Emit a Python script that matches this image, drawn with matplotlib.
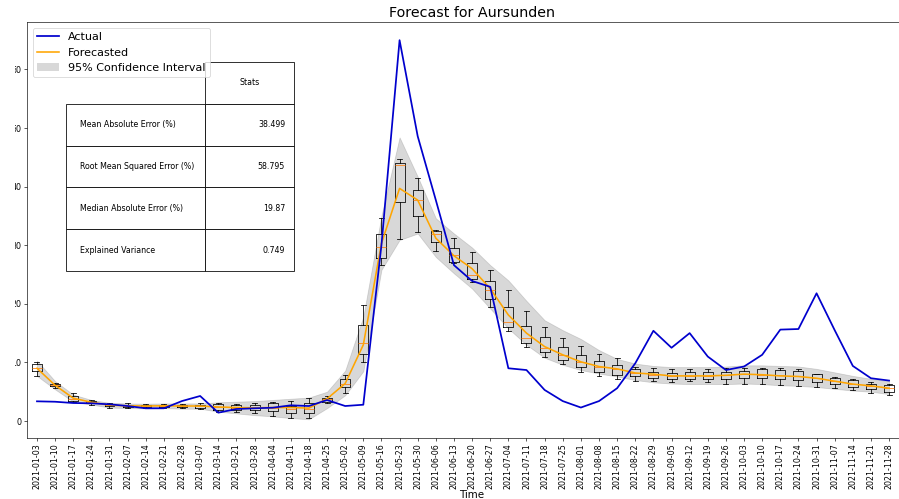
import numpy as np
import matplotlib
matplotlib.use("Agg")
import matplotlib.pyplot as plt
from matplotlib.table import Table
from matplotlib.patches import Rectangle
from matplotlib.lines import Line2D
from matplotlib.patches import Patch

weeks = [
    "2021-01-03", "2021-01-10", "2021-01-17", "2021-01-24", "2021-01-31",
    "2021-02-07", "2021-02-14", "2021-02-21", "2021-02-28", "2021-03-07",
    "2021-03-14", "2021-03-21", "2021-03-28", "2021-04-04", "2021-04-11",
    "2021-04-18", "2021-04-25", "2021-05-02", "2021-05-09", "2021-05-16",
    "2021-05-23", "2021-05-30", "2021-06-06", "2021-06-13", "2021-06-20",
    "2021-06-27", "2021-07-04", "2021-07-11", "2021-07-18", "2021-07-25",
    "2021-08-01", "2021-08-08", "2021-08-15", "2021-08-22", "2021-08-29",
    "2021-09-05", "2021-09-12", "2021-09-19", "2021-09-26", "2021-10-03",
    "2021-10-10", "2021-10-17", "2021-10-24", "2021-10-31", "2021-11-07",
    "2021-11-14", "2021-11-21", "2021-11-28",
]

actual = [3.36, 3.29, 3.07, 3.02, 2.85, 2.56, 2.17, 2.17, 3.41, 4.27,
          1.42, 2.05, 2.17, 2.27, 2.68, 2.56, 3.58, 2.56, 2.78, 30.0,
          65.0, 48.6, 37.7, 26.6, 23.9, 22.9, 9.0, 8.7, 5.3, 3.4,
          2.3, 3.4, 5.6, 9.85, 15.4, 12.5, 15.0, 11.0, 8.7, 9.3,
          11.3, 15.6, 15.7, 21.8, 15.5, 9.4, 7.3, 6.9]

forecast = [9.0, 6.1, 3.9, 3.2, 2.7, 2.6, 2.56, 2.6, 2.56, 2.56,
            2.4, 2.3, 2.25, 2.3, 2.3, 2.2, 3.8, 6.4, 13.0, 30.3,
            39.7, 37.7, 31.2, 28.2, 26.0, 22.6, 18.1, 15.0, 12.7, 11.3,
            10.1, 9.3, 8.9, 8.2, 8.0, 7.7, 7.7, 7.7, 7.8, 8.0,
            7.9, 7.7, 7.6, 7.3, 6.8, 6.3, 6.0, 5.6]

ci_upper = [10.3, 6.8, 4.5, 3.6, 3.1, 3.0, 2.95, 3.0, 3.0, 3.0,
            3.2, 3.3, 3.4, 3.6, 3.8, 4.0, 5.0, 8.6, 17.8, 35.0,
            48.4, 41.7, 34.6, 32.0, 29.6, 26.6, 24.0, 20.5, 17.2, 15.5,
            14.0, 12.1, 10.6, 9.8, 9.4, 9.2, 9.2, 9.2, 9.3, 9.5,
            9.5, 9.4, 9.3, 8.9, 8.3, 7.7, 7.2, 6.8]

ci_lower = [7.7, 5.4, 3.3, 2.8, 2.3, 2.2, 2.15, 2.2, 2.1, 2.1,
            1.6, 1.3, 1.0, 0.8, 0.5, 0.3, 2.2, 4.4, 8.5, 25.8,
            30.9, 32.0, 28.0, 25.2, 22.6, 19.2, 15.8, 13.0, 10.8, 9.6,
            8.7, 8.1, 7.6, 7.0, 6.6, 6.4, 6.3, 6.3, 6.3, 6.4,
            6.3, 6.1, 6.0, 5.8, 5.5, 5.2, 5.0, 4.6]

box_q1 = [8.6, 5.9, 3.5, 3.0, 2.5, 2.4, 2.35, 2.4, 2.35, 2.25,
          1.9, 1.9, 1.8, 1.7, 1.3, 1.3, 3.3, 5.75, 11.5, 27.8,
          37.4, 35.0, 30.6, 27.2, 24.2, 20.8, 16.1, 13.3, 11.7, 10.4,
          9.3, 8.3, 7.85, 7.6, 7.3, 7.1, 7.2, 7.1, 7.2, 7.3,
          7.3, 7.1, 7.0, 6.7, 6.4, 5.85, 5.4, 5.0]
box_med = [9.1, 6.1, 3.8, 3.2, 2.7, 2.6, 2.55, 2.6, 2.55, 2.5,
           2.4, 2.3, 2.2, 2.3, 2.0, 2.1, 3.7, 6.4, 13.3, 29.7,
           43.7, 37.7, 32.0, 28.3, 24.9, 22.4, 16.9, 14.1, 12.4, 11.2,
           10.0, 9.2, 8.8, 8.2, 7.9, 7.7, 7.7, 7.7, 7.8, 8.0,
           7.9, 7.8, 7.6, 7.3, 6.9, 6.3, 6.0, 5.6]
box_q3 = [9.8, 6.3, 4.3, 3.4, 2.9, 2.8, 2.75, 2.8, 2.75, 2.8,
          2.9, 2.7, 2.7, 3.1, 2.6, 3.0, 4.0, 7.1, 16.4, 31.9,
          44.1, 39.4, 32.4, 29.5, 26.9, 23.9, 19.5, 16.2, 14.3, 12.6,
          11.3, 10.3, 9.6, 8.9, 8.4, 8.2, 8.3, 8.3, 8.4, 8.6,
          8.8, 8.7, 8.5, 8.0, 7.4, 7.0, 6.4, 6.1]
box_low = [7.6, 5.7, 3.3, 2.8, 2.3, 2.3, 2.2, 2.25, 2.2, 2.0,
           1.6, 1.5, 1.3, 0.85, 0.46, 0.46, 3.1, 4.8, 10.1, 26.6,
           31.0, 32.3, 29.1, 26.9, 23.8, 19.5, 15.4, 12.7, 11.0, 9.7,
           8.4, 7.6, 7.1, 6.9, 6.8, 6.65, 6.8, 6.6, 6.3, 6.4,
           6.4, 6.2, 5.9, 5.75, 5.6, 5.3, 4.7, 4.4]
box_high = [10.1, 6.5, 4.8, 3.6, 3.1, 3.0, 2.9, 2.95, 2.9, 3.0,
            3.1, 2.9, 3.0, 3.3, 3.5, 3.9, 4.3, 7.85, 19.8, 34.6,
            44.7, 41.4, 32.6, 31.2, 28.9, 25.8, 22.4, 18.7, 16.1, 14.2,
            12.8, 11.5, 10.7, 9.3, 9.1, 8.9, 8.9, 8.9, 9.0, 9.0,
            9.0, 9.0, 8.8, 8.1, 7.5, 7.2, 6.6, 6.3]

stat_names = ["Mean Absolute Error (%)", "Root Mean Squared Error (%)",
              "Median Absolute Error (%)", "Explained Variance"]
stat_values = ["38.499", "58.795", "19.87", "0.749"]

DPI = 57
W, H = 899, 499
fig = plt.figure(figsize=(W / DPI, H / DPI), dpi=DPI)
# axes runs slightly past the right edge of the canvas
AX_L, AX_R, AX_T, AX_B = 27, 917, 22, 438
ax = fig.add_axes([AX_L / W, 1 - AX_B / H, (AX_R - AX_L) / W, (AX_B - AX_T) / H])

x = np.arange(len(weeks))

ax.fill_between(x, ci_lower, ci_upper, color="gray", alpha=0.3, zorder=1)

stats = [dict(q1=a, med=m, q3=b, whislo=lo, whishi=hi, fliers=[])
         for a, m, b, lo, hi in zip(box_q1, box_med, box_q3, box_low, box_high)]
ax.bxp(stats, positions=x, widths=0.55, manage_ticks=False, zorder=2)

ax.plot(x, forecast, color="orange", lw=2, zorder=3)
ax.plot(x, actual, color="mediumblue", lw=2.2, zorder=4)

ax.set_xticks(x)
ax.set_xticklabels(weeks, rotation=90)
ax.set_yticks(np.arange(0, 70, 10))
ax.set_xlim(-0.55, 48.54)
ax.set_ylim(-2.9, 68.1)
ax.set_title("Forecast for Aursunden", fontsize=18)
ax.set_xlabel("Time", fontsize=13, labelpad=1)

handles = [Line2D([], [], color="mediumblue", lw=2.2),
           Line2D([], [], color="orange", lw=2),
           Patch(facecolor="gray", alpha=0.3)]
ax.legend(handles, ["Actual", "Forecasted", "95% Confidence Interval"],
          loc="upper left", fontsize=14)

# statistics table: header cell over the value column, row labels on the left
aw, ah = AX_R - AX_L, AX_B - AX_T
tbl = Table(ax, bbox=[(66 - AX_L) / aw, (AX_B - 271) / ah,
                      (294 - 66) / aw, (271 - 62) / ah])
lab_w, val_w = 139, 89
tbl.add_cell(0, 1, val_w, 1, text="Stats", loc="center")
for r, (name, val) in enumerate(zip(stat_names, stat_values), start=1):
    tbl.add_cell(r, 0, lab_w, 1, text=name, loc="left")
    tbl.add_cell(r, 1, val_w, 1, text=val, loc="right")
tbl.auto_set_font_size(False)
tbl.set_fontsize(10)
ax.add_table(tbl)

# left margin strip of the canvas
fig.add_artist(Rectangle((0, 0), 15 / W, 1, transform=fig.transFigure,
                         facecolor="white", edgecolor="none", zorder=10))

fig.savefig("out.png", dpi=DPI)
